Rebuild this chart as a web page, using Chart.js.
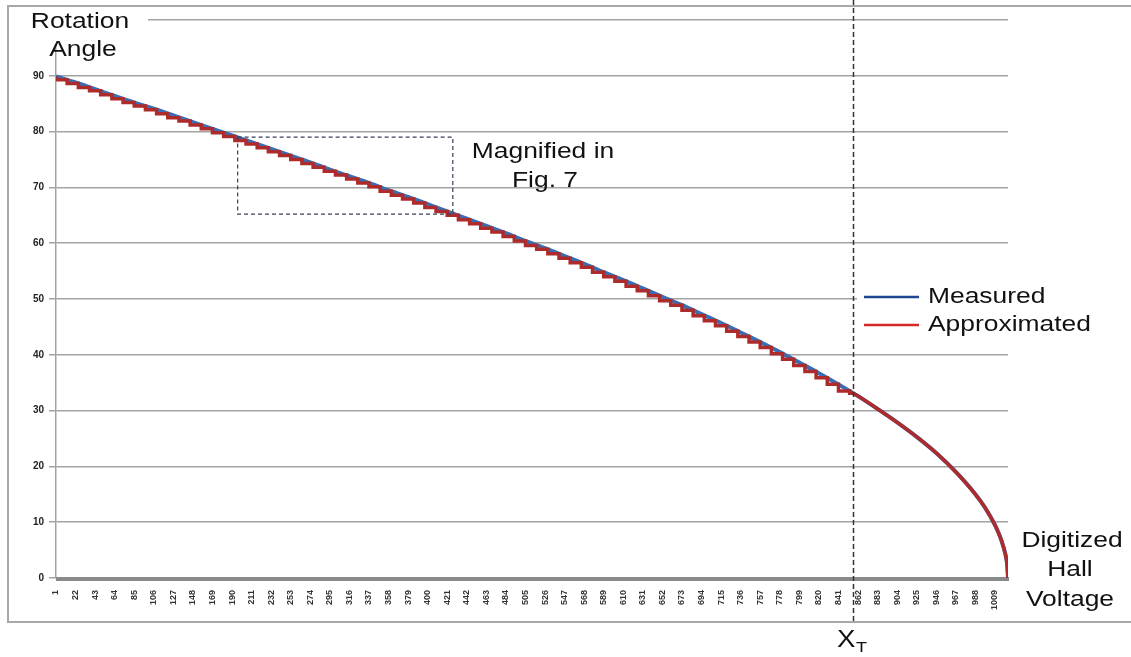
<!DOCTYPE html>
<html lang="en">
<head>
<meta charset="UTF-8">
<title>Rotation Angle vs Digitized Hall Voltage</title>
<style>
  body { margin: 0; background: #fff; }
  #wrap { width: 1131px; height: 657px; }
</style>
</head>
<body>
<div id="wrap"><canvas id="myChart" width="1131" height="657"></canvas></div>
<script src="https://cdn.jsdelivr.net/npm/chart.js@4.4.1/dist/chart.umd.min.js"></script>
<script>
// category tick labels (every 21st code)
var xTicks = [1,22,43,64,85,106,127,148,169,190,211,232,253,274,295,316,337,358,379,400,
  421,442,463,484,505,526,547,568,589,610,631,652,673,694,715,736,757,778,799,820,
  841,862,883,904,925,946,967,988,1009];

// measured curve
var measuredX = [1,22,43,64,85,106,127,148,169,190,211,232,253,274,295,316,337,358,379,400,
  421,442,463,484,505,526,547,568,589,610,631,652,673,694,715,736,757,778,799,820,
  841,862,883,904,925,946,967,988,998,1009,1013,1016,1020,1022,1023];
var measuredY = [89.9,88.8,87.6,86.4,85.2,84.1,82.9,81.7,80.5,79.3,
  78.1,76.9,75.7,74.5,73.2,72.0,70.8,69.5,68.3,67.0,
  65.7,64.4,63.1,61.8,60.4,59.1,57.7,56.3,54.8,53.4,
  51.9,50.4,48.9,47.3,45.7,44.0,42.3,40.5,38.6,36.7,
  34.7,32.6,30.3,27.9,25.3,22.4,19.0,15.0,12.7,9.5,8.0,6.7,4.4,2.5,0];

// approximated curve, stepped part up to X_T
var approxStepX = [1,13,25,37,49,61,73,85,97,109,121,133,145,157,169,181,193,205,217,229,
  241,253,265,277,289,301,313,325,337,349,361,373,385,397,409,421,433,445,457,469,
  481,493,505,517,529,541,553,565,577,589,601,613,625,637,649,661,673,685,697,709,
  721,733,745,757,769,781,793,805,817,829,841,853,857];
var approxStepY = [89.9,89.3,88.6,87.9,87.3,86.6,85.9,85.2,84.6,83.9,
  83.2,82.5,81.9,81.2,80.5,79.8,79.1,78.4,77.8,77.1,
  76.4,75.7,75.0,74.3,73.6,72.9,72.2,71.5,70.8,70.1,
  69.3,68.6,67.9,67.2,66.4,65.7,65.0,64.2,63.5,62.7,
  62.0,61.2,60.4,59.6,58.9,58.1,57.3,56.5,55.7,54.8,
  54.0,53.2,52.3,51.5,50.6,49.7,48.9,48.0,47.0,46.1,
  45.2,44.2,43.3,42.3,41.3,40.2,39.2,38.1,37.0,35.9,
  34.7,33.5,33.1];

// approximated curve after X_T (follows measured)
var approxTailX = [857,862,883,904,925,946,967,988,998,1009,1013,1016,1020,1022,1023];
var approxTailY = [33.1,32.6,30.3,27.9,25.3,22.4,19.0,15.0,12.7,9.5,8.0,6.7,4.4,2.5,0];

var xT = 857;               // threshold marker
var magBox = [196, 427, 65.2, 79.0];  // x0, x1, y0, y1 of "magnified" box

function pts(xs, ys) {
  return xs.map(function(x, i) { return {x: x, y: ys[i]}; });
}

var FONT = '"Liberation Sans", Arial, sans-serif';
var BLUE = '#3b6db3', RED = '#ad2b2b';

// text is a bit wider than normal in the original figure
function label(c, txt, x, y, size, align) {
  var sx = 1.2;
  c.save();
  c.font = size + 'px ' + FONT;
  c.textBaseline = 'middle';
  c.textAlign = 'left';
  var w = c.measureText(txt).width * sx;
  var x0 = align === 'center' ? x - w / 2 : x;
  c.translate(x0, y);
  c.scale(sx, 1);
  c.fillText(txt, 0, 0);
  c.restore();
}

var overlay = {
  id: 'overlay',
  beforeDatasetsDraw: function(chart) {
    var c = chart.ctx, xs = chart.scales.x, ys = chart.scales.y;
    var y0 = ys.getPixelForValue(0) + 1;
    c.save();
    c.strokeStyle = '#8a8a8a';
    c.lineWidth = 4;
    c.beginPath();
    c.moveTo(chart.chartArea.left, y0);
    c.lineTo(xs.getPixelForValue(1023) + 1, y0);
    c.stroke();
    c.restore();
  },
  afterDraw: function(chart) {
    var c = chart.ctx, xs = chart.scales.x, ys = chart.scales.y;
    c.save();

    // outer frame
    c.strokeStyle = '#a8a8a8';
    c.lineWidth = 2;
    c.strokeRect(8, 6, 1140, 616);

    // magnified box
    c.strokeStyle = '#3a3f5c';
    c.lineWidth = 1.2;
    c.setLineDash([4, 3]);
    var bx0 = xs.getPixelForValue(magBox[0]), bx1 = xs.getPixelForValue(magBox[1]);
    var by0 = ys.getPixelForValue(magBox[2]), by1 = ys.getPixelForValue(magBox[3]);
    c.strokeRect(bx0, by1, bx1 - bx0, by0 - by1);

    // X_T dashed line
    var px = Math.round(xs.getPixelForValue(xT)) + 0.5;
    c.strokeStyle = '#333';
    c.lineWidth = 1.5;
    c.setLineDash([5, 3]);
    c.beginPath();
    c.moveTo(px, 0);
    c.lineTo(px, 623);
    c.stroke();
    c.setLineDash([]);

    // title block over the top gridline
    c.fillStyle = '#fff';
    c.fillRect(24, 8, 124, 36);
    c.fillStyle = '#111';
    label(c, 'Rotation', 80, 22, 22, 'center');
    label(c, 'Angle', 83, 50, 22, 'center');

    label(c, 'Magnified in', 543, 152, 22, 'center');
    label(c, 'Fig. 7', 545, 181, 22, 'center');

    label(c, 'Digitized', 1072, 541, 22, 'center');
    label(c, 'Hall', 1070, 570, 22, 'center');
    label(c, 'Voltage', 1070, 600, 22, 'center');

    // X_T label
    label(c, 'X', 837, 641, 23, 'left');
    label(c, 'T', 856, 648, 15, 'left');

    // legend
    c.fillStyle = '#fff';
    c.fillRect(857, 282, 274, 58);
    c.lineWidth = 2.5;
    c.strokeStyle = '#1f4690';
    c.beginPath(); c.moveTo(864, 297); c.lineTo(919, 297); c.stroke();
    c.strokeStyle = '#d42a2a';
    c.beginPath(); c.moveTo(864, 325); c.lineTo(919, 325); c.stroke();
    c.fillStyle = '#111';
    label(c, 'Measured', 928, 297, 22, 'left');
    label(c, 'Approximated', 928, 325, 22, 'left');

    c.restore();
  }
};

var ctx = document.getElementById('myChart').getContext('2d');
var myChart = new Chart(ctx, {
  type: 'line',
  data: {
    datasets: [{
      label: 'Approximated',
      data: pts(approxStepX, approxStepY),
      borderColor: RED,
      borderWidth: 3.5,
      pointRadius: 0,
      stepped: 'after',
      order: 0
    }, {
      label: 'Approximated (tail)',
      data: pts(approxTailX, approxTailY),
      borderColor: RED,
      borderWidth: 3.5,
      pointRadius: 0,
      cubicInterpolationMode: 'monotone',
      order: 0
    }, {
      label: 'Measured',
      data: pts(measuredX, measuredY),
      borderColor: BLUE,
      borderWidth: 4,
      pointRadius: 0,
      cubicInterpolationMode: 'monotone',
      order: 1
    }]
  },
  options: {
    responsive: false,
    animation: false,
    layout: { padding: { left: 0, right: 123, top: 20, bottom: 0 } },
    plugins: { legend: { display: false }, tooltip: { enabled: false } },
    scales: {
      x: {
        type: 'linear',
        min: 1,
        max: 1023,
        afterBuildTicks: function(scale) {
          scale.ticks = xTicks.map(function(v) { return {value: v}; });
        },
        afterFit: function(scale) { scale.height = 79; },
        grid: { display: false },
        border: { display: false },
        ticks: {
          autoSkip: false,
          minRotation: 90,
          maxRotation: 90,
          padding: 4,
          color: '#333',
          font: { family: FONT, size: 9, weight: 'bold' },
          callback: function(v) { return String(v); }
        }
      },
      y: {
        min: 0,
        max: 100,
        afterFit: function(scale) { scale.width = 56; },
        grid: { color: '#a3a3a3', lineWidth: 1.5, tickLength: 7 },
        border: { color: '#a3a3a3', width: 1.5 },
        ticks: {
          stepSize: 10,
          padding: 5,
          color: '#222',
          font: { family: FONT, size: 10, weight: 'bold' },
          callback: function(v) { return v === 100 ? '' : v; }
        }
      }
    }
  },
  plugins: [overlay]
});
</script>
</body>
</html>
